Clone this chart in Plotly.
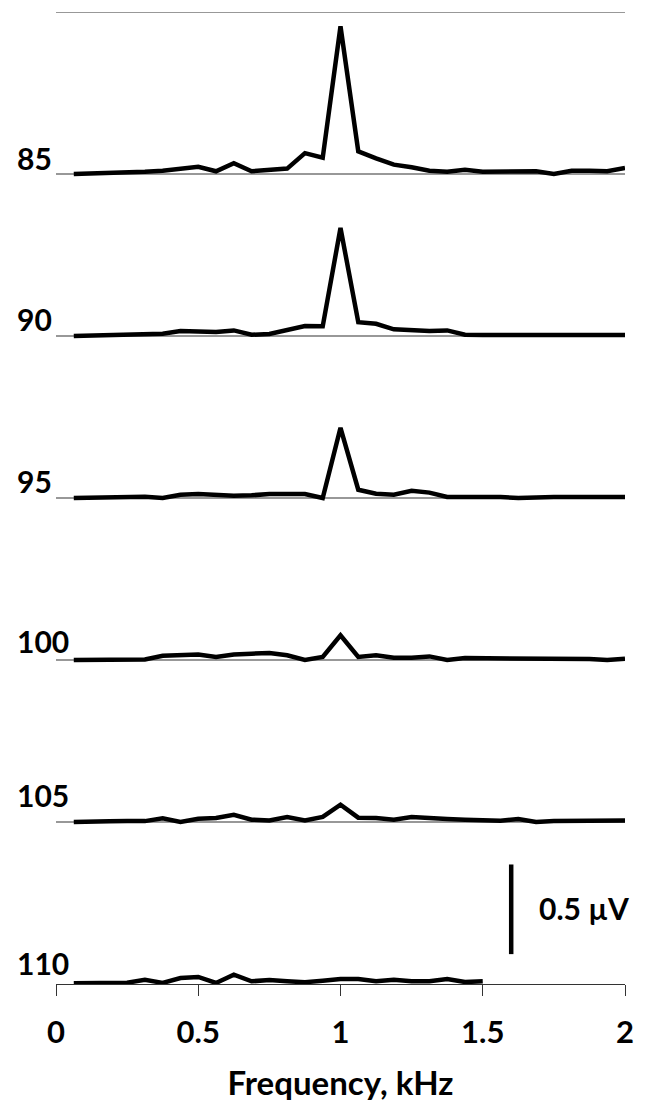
import plotly.graph_objects as go

freq_khz = [0.0625, 0.125, 0.1875, 0.25, 0.3125, 0.375, 0.4375, 0.5, 0.5625, 0.625,
            0.6875, 0.75, 0.8125, 0.875, 0.9375, 1.0, 1.0625, 1.125, 1.1875, 1.25,
            1.3125, 1.375, 1.4375, 1.5, 1.5625, 1.625, 1.6875, 1.75, 1.8125, 1.875,
            1.9375, 2.0]

levels = ["85", "90", "95", "100", "105", "110"]
offsets = [4.5, 3.6, 2.7, 1.8, 0.9, 0.0]

amp_85 = [0.0, 0.002, 0.005, 0.01, 0.012, 0.018, 0.03, 0.04, 0.015, 0.06, 0.015, 0.025,
          0.03, 0.116, 0.09, 0.82, 0.126, 0.087, 0.052, 0.037, 0.018, 0.013, 0.024, 0.013,
          0.015, 0.018, 0.015, 0.0, 0.018, 0.018, 0.015, 0.033]
amp_90 = [0.0, 0.002, 0.004, 0.006, 0.008, 0.012, 0.028, 0.022, 0.022, 0.031, 0.007, 0.011,
          0.031, 0.055, 0.054, 0.60, 0.077, 0.068, 0.037, 0.031, 0.028, 0.031, 0.007, 0.006,
          0.006, 0.007, 0.01, 0.007, 0.006, 0.006, 0.006, 0.006]
amp_95 = [0.0, 0.003, 0.004, 0.004, 0.007, 0.0, 0.018, 0.022, 0.015, 0.013, 0.015, 0.022,
          0.022, 0.022, 0.0, 0.39, 0.046, 0.024, 0.018, 0.04, 0.03, 0.006, 0.005, 0.006,
          0.005, 0.0, 0.005, 0.005, 0.005, 0.006, 0.006, 0.006]
amp_100 = [0.0, 0.0, 0.0, 0.002, 0.003, 0.024, 0.03, 0.03, 0.017, 0.031, 0.035, 0.039,
           0.026, 0.0, 0.017, 0.137, 0.017, 0.026, 0.013, 0.013, 0.02, 0.0, 0.011, 0.011,
           0.01, 0.01, 0.009, 0.008, 0.007, 0.005, 0.0, 0.007]
amp_105 = [0.0, 0.005, 0.004, 0.006, 0.005, 0.02, 0.0, 0.018, 0.022, 0.04, 0.013, 0.009,
           0.028, 0.009, 0.028, 0.096, 0.024, 0.022, 0.013, 0.028, 0.02, 0.017, 0.013, 0.009,
           0.007, 0.017, 0.0, 0.005, 0.006, 0.008, 0.008, 0.008]
amp_110 = [0.004, 0.005, 0.006, 0.007, 0.024, 0.006, 0.033, 0.039, 0.006, 0.052, 0.015, 0.022,
           0.015, 0.01, 0.018, 0.028, 0.028, 0.015, 0.024, 0.015, 0.015, 0.028, 0.011, 0.015]

amps = [amp_85, amp_90, amp_95, amp_100, amp_105, amp_110]
label_dy = [0.091, 0.094, 0.097, 0.105, 0.152, 0.119]

tick_vals = [0, 0.5, 1, 1.5, 2]
tick_text = ["0", "0.5", "1", "1.5", "2"]

scale_bar = [0.166, 0.664]
scale_x = 1.6
scale_label = "0.5 µV"

FONT = "Lato"

fig = go.Figure()

# thin baselines for each level (plus top line)
for off in offsets[:-1] + [5.4]:
    fig.add_shape(type="line", x0=0, x1=2, y0=off, y1=off, xref="x", yref="y",
                  line=dict(color="#333333", width=1.2), layer="below")

for lvl, off, amp in zip(levels, offsets, amps):
    xs = freq_khz[:len(amp)]
    fig.add_trace(go.Scatter(x=xs, y=[off + a for a in amp], mode="lines",
                             line=dict(color="black", width=4.5), showlegend=False,
                             hoverinfo="skip"))

for lvl, off, dy in zip(levels, offsets, label_dy):
    fig.add_annotation(x=-0.072, y=off + dy, xref="paper", yref="y", text=lvl,
                       showarrow=False, xanchor="left", yanchor="middle",
                       font=dict(family=FONT, size=30, color="black", weight="bold"))

fig.add_shape(type="line", x0=scale_x, x1=scale_x, y0=scale_bar[0], y1=scale_bar[1],
              xref="x", yref="y", line=dict(color="black", width=4.5))
fig.add_annotation(x=1.69, y=0.42, xref="x", yref="y", text=scale_label, showarrow=False,
                   xanchor="left", yanchor="middle",
                   font=dict(family=FONT, size=30, color="black", weight="bold"))

fig.update_layout(
    width=646, height=1107,
    margin=dict(l=56, r=20, t=12, b=119),
    paper_bgcolor="white", plot_bgcolor="white",
    xaxis=dict(range=[0, 2], tickvals=tick_vals, ticktext=tick_text,
               showgrid=False, zeroline=False, showline=True, linecolor="#333333",
               linewidth=1.2, ticks="outside", ticklen=11, tickcolor="#333333",
               tickwidth=1.2, ticklabelstandoff=10,
               tickfont=dict(family=FONT, size=31, color="black", weight="bold"),
               title=dict(text="Frequency, kHz", standoff=22,
                          font=dict(family=FONT, size=33, color="black", weight="bold"))),
    yaxis=dict(range=[0, 5.4], visible=False, showgrid=False, zeroline=False),
)

fig.write_html(
    "out.html",
    config={"displayModeBar": False},
    post_script=("document.documentElement.style.margin='0';"
                 "document.body.style.margin='0';"
                 "document.body.style.overflow='hidden';"
                 "document.documentElement.style.overflow='hidden';"),
)
